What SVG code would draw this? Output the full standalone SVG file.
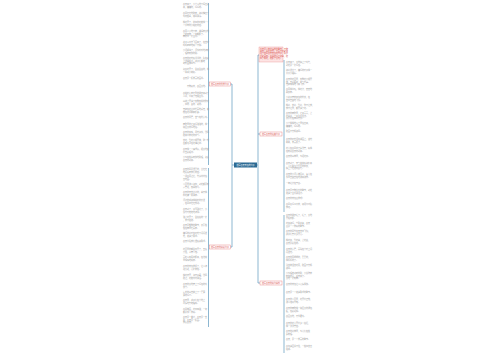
<svg xmlns="http://www.w3.org/2000/svg" width="500" height="360" viewBox="0 0 500 360">
<style>
text{font-family:"Noto Sans CJK SC","Noto Sans",sans-serif}
.lf{font-size:2px;fill:#9a9a9a}
.br{font-size:2px;fill:#d9534f}
.ct{font-size:2px;fill:#ffffff}
.ln{stroke:#5b98bd;stroke-width:0.7;fill:none}
.bx{fill:#ffffff;stroke:#e57373;stroke-width:0.4}
</style>
<rect width="500" height="360" fill="#ffffff"/>
<g id="connectors">
<path class="ln" d="M234 165H232M232 84V247M232 84H230M232 247H230"/>
<path class="ln" d="M257 165H258M258 55V283M258 55H259M258 134H260M258 283H260"/>
<path class="ln" d="M208.5 3V165"/>
<path class="ln" d="M208.5 168V327"/>
<path class="ln" d="M284 60V212"/>
<path class="ln" d="M284 215V353"/>
</g>
<g id="center"><rect x="234" y="162.5" width="23" height="5" fill="#2c6a94"/><text class="ct" x="245.5" y="165.7" text-anchor="middle">描写春天景色的句子</text></g>
<g id="n-left1"><rect class="bx" x="209.5" y="82" width="21" height="4"/><text class="br" x="220" y="84.7" text-anchor="middle">描写春天的优美句子</text></g>
<g id="n-left2"><rect class="bx" x="209.5" y="245" width="21" height="4"/><text class="br" x="220" y="247.7" text-anchor="middle">描写春天的精彩句子</text></g>
<g id="n-intro"><rect x="259" y="47" width="24" height="15" fill="#fde4e4" stroke="#e57373" stroke-width="0.3"/><text class="br" x="260" y="49.5"><tspan x="260">春天是一年中最美的季节，万物</tspan><tspan x="260" dy="2.4">复苏，百花盛开。下面为大家整</tspan><tspan x="260" dy="2.4">理了描写春天景色的句子，希望</tspan><tspan x="260" dy="2.4">大家喜欢。春风吹绿了柳条，吹</tspan><tspan x="260" dy="2.4">红了桃花，吹醒了大地。</tspan></text></g>
<g id="n-right1"><rect class="bx" x="260" y="132" width="22" height="4"/><text class="br" x="271" y="134.7" text-anchor="middle">描写春天的经典句子</text></g>
<g id="n-right2"><rect class="bx" x="260" y="281" width="22" height="4"/><text class="br" x="271" y="283.7" text-anchor="middle">描写春天的好句摘抄</text></g>
<g id="leaves-left1" class="lf">
<text x="183" y="5"><tspan x="183">春天来了，小草从地下探出头</tspan><tspan x="183" dy="2.6">来，嫩嫩的，绿绿的。</tspan></text>
<text x="183" y="14"><tspan x="183">春风轻轻地吹着，柳树抽出了</tspan><tspan x="183" dy="2.6">新的枝条，随风飘荡。</tspan></text>
<text x="183" y="23"><tspan x="183">桃花开了，粉红的花瓣像一个</tspan><tspan x="183" dy="2.6">个害羞的小姑娘的脸。</tspan></text>
<text x="183" y="32"><tspan x="183">春雨沙沙地下着，滋润着大地</tspan><tspan x="183" dy="2.6">上的万物，一切都醒了。</tspan><tspan x="183" dy="2.6">田野里一片生机。</tspan></text>
<text x="183" y="43"><tspan x="183">燕子从南方飞回来了，在空中</tspan><tspan x="183" dy="2.6">叽叽喳喳地叫个不停。</tspan></text>
<text x="183" y="51"><tspan x="183">小河解冻了，河水哗哗地流着</tspan><tspan x="183" dy="2.6">，唱着欢快的歌。</tspan></text>
<text x="183" y="59"><tspan x="183">春天的阳光暖洋洋的，照在身</tspan><tspan x="183" dy="2.6">上舒服极了，孩子们都跑</tspan><tspan x="183" dy="2.6">到外面放风筝。</tspan></text>
<text x="183" y="70"><tspan x="183">迎春花开了，金黄金黄的，像</tspan><tspan x="183" dy="2.6">一串串小喇叭。</tspan></text>
<text x="183" y="79"><tspan x="183">春天是一幅美丽的画卷。</tspan></text>
<text x="183" y="87"><tspan x="183">　　万物复苏，春回大地。</tspan></text>
<text x="183" y="94"><tspan x="183">春姑娘迈着轻盈的脚步来到了</tspan><tspan x="183" dy="2.6">人间，带来了无限生机。</tspan></text>
<text x="183" y="102"><tspan x="183">山坡上开满了各种各样的野花</tspan><tspan x="183" dy="2.6">，红的、黄的、紫的。</tspan></text>
<text x="183" y="110"><tspan x="183">蜜蜂在花丛中忙碌地采蜜，蝴</tspan><tspan x="183" dy="2.6">蝶在花间翩翩起舞。</tspan></text>
<text x="183" y="118"><tspan x="183">春天的早晨，空气格外清新。</tspan></text>
<text x="183" y="125"><tspan x="183">田野里的麦苗绿油油的，像一</tspan><tspan x="183" dy="2.6">块巨大的绿地毯。</tspan></text>
<text x="183" y="133"><tspan x="183">春天的夜晚，月光如水，微风</tspan><tspan x="183" dy="2.6">吹来带着花的香气。</tspan></text>
<text x="183" y="141"><tspan x="183">杏花、梨花竞相开放，整个村</tspan><tspan x="183" dy="2.6">庄都笼罩在花海之中。</tspan></text>
<text x="183" y="150"><tspan x="183">春天像一个魔术师，把大地变</tspan><tspan x="183" dy="2.6">得五彩缤纷。</tspan></text>
<text x="183" y="158"><tspan x="183">小鸟在枝头欢快地歌唱，迎接</tspan><tspan x="183" dy="2.6">春天的到来。</tspan></text>
</g>
<g id="leaves-left2" class="lf">
<text x="183" y="170"><tspan x="183">春天的风是温柔的，它轻轻</tspan><tspan x="183" dy="2.6">地抚摸着我们的脸。</tspan></text>
<text x="183" y="177"><tspan x="183">一场春雨过后，竹笋纷纷钻</tspan><tspan x="183" dy="2.6">出地面。</tspan></text>
<text x="183" y="185"><tspan x="183">公园里游人如织，到处都是欢</tspan><tspan x="183" dy="2.6">声笑语，热闹非凡。</tspan></text>
<text x="183" y="193"><tspan x="183">春天的天空蓝蓝的，白云像</tspan><tspan x="183" dy="2.6">棉花糖一样飘着。</tspan></text>
<text x="183" y="201"><tspan x="183">河边的垂柳像姑娘的长发</tspan><tspan x="183" dy="2.6">，在风中轻轻摆动。</tspan></text>
<text x="183" y="210"><tspan x="183">春天到了，冰雪融化了，小</tspan><tspan x="183" dy="2.6">溪叮叮咚咚地流淌。</tspan></text>
<text x="183" y="218"><tspan x="183">油菜花开了，金灿灿的一片</tspan><tspan x="183" dy="2.6">，美不胜收。</tspan></text>
<text x="183" y="226"><tspan x="183">春天是播种的季节，农民伯</tspan><tspan x="183" dy="2.6">伯在田里忙碌着。</tspan></text>
<text x="183" y="234"><tspan x="183">嫩绿的树叶在阳光下闪闪发</tspan><tspan x="183" dy="2.6">光，充满了希望。</tspan></text>
<text x="183" y="242"><tspan x="183">春天带给我们温暖和希望。</tspan></text>
<text x="183" y="250"><tspan x="183">花园里的郁金香开了，五颜</tspan><tspan x="183" dy="2.6">六色，争奇斗艳。</tspan></text>
<text x="183" y="258"><tspan x="183">青蛙从冬眠中醒来，在池塘</tspan><tspan x="183" dy="2.6">里呱呱地叫着。</tspan></text>
<text x="183" y="267"><tspan x="183">春天的景色美极了，让人流</tspan><tspan x="183" dy="2.6">连忘返，心旷神怡。</tspan></text>
<text x="183" y="276"><tspan x="183">樱花盛开，如云似霞，微风</tspan><tspan x="183" dy="2.6">吹过，花瓣纷纷飘落。</tspan></text>
<text x="183" y="285"><tspan x="183">春天的大地穿上了绿色的新</tspan><tspan x="183" dy="2.6">衣裳。</tspan></text>
<text x="183" y="293"><tspan x="183">远处的山峦披上了一层薄</tspan><tspan x="183" dy="2.6">薄的绿纱。</tspan></text>
<text x="183" y="301"><tspan x="183">春天里，孩子们在草地上</tspan><tspan x="183" dy="2.6">尽情地奔跑嬉戏。</tspan></text>
<text x="183" y="310"><tspan x="183">春风拂面，花香四溢，一切</tspan><tspan x="183" dy="2.6">都是那么美好。</tspan></text>
<text x="183" y="318"><tspan x="183">春天是一首诗，春天是一支</tspan><tspan x="183" dy="2.6">歌，春天是一幅画。</tspan><tspan x="183" dy="2.6">我爱春天。</tspan></text>
</g>
<g id="leaves-right1" class="lf">
<text x="286" y="63"><tspan x="286">春天来了，大地换上了新装，</tspan><tspan x="286" dy="2.6">到处是一片绿色。</tspan></text>
<text x="286" y="71"><tspan x="286">柳树发芽了，嫩绿的叶子像一</tspan><tspan x="286" dy="2.6">只只小眼睛。</tspan></text>
<text x="286" y="80"><tspan x="286">春天的花园里，各种花竞相开</tspan><tspan x="286" dy="2.6">放，五彩缤纷，香气扑鼻。</tspan><tspan x="286" dy="2.6">蜜蜂嗡嗡地飞来飞去。</tspan></text>
<text x="286" y="90"><tspan x="286">春雨像牛毛，像花针，密密地</tspan><tspan x="286" dy="2.6">斜织着。</tspan></text>
<text x="286" y="98"><tspan x="286">小燕子穿着黑色的外衣，在</tspan><tspan x="286" dy="2.6">空中自由地飞翔。</tspan></text>
<text x="286" y="106"><tspan x="286">桃树、杏树、梨树，你不让我，</tspan><tspan x="286" dy="2.6">我不让你，都开满了花。</tspan></text>
<text x="286" y="114"><tspan x="286">春天的田野里，麦苗青青，菜</tspan><tspan x="286" dy="2.6">花黄黄，一片生机盎然。</tspan><tspan x="286" dy="2.6">农民们在田间劳作。</tspan></text>
<text x="286" y="124"><tspan x="286">小草偷偷地从土里钻出来，</tspan><tspan x="286" dy="2.6">嫩嫩的，绿绿的。</tspan></text>
<text x="286" y="132"><tspan x="286">吹面不寒杨柳风。</tspan></text>
<text x="286" y="140"><tspan x="286">春天的阳光洒在湖面上，波光</tspan><tspan x="286" dy="2.6">粼粼，美丽极了。</tspan></text>
<text x="286" y="149"><tspan x="286">花儿在春风中点头微笑，好像</tspan><tspan x="286" dy="2.6">在欢迎春天的到来。</tspan></text>
<text x="286" y="157"><tspan x="286">春天的山林里，鸟语花香。</tspan></text>
<text x="286" y="164"><tspan x="286">春天到了，天气渐渐暖和起来</tspan><tspan x="286" dy="2.6">，人们脱下了厚厚的棉衣，</tspan><tspan x="286" dy="2.6">换上了轻便的春装。</tspan></text>
<text x="286" y="175"><tspan x="286">春天的小河清澈见底，鱼儿在</tspan><tspan x="286" dy="2.6">水里自由自在地游来游去。</tspan></text>
<text x="286" y="184"><tspan x="286">一年之计在于春。</tspan></text>
<text x="286" y="191"><tspan x="286">春天是万物生长的季节，到处</tspan><tspan x="286" dy="2.6">充满了生机和活力。</tspan></text>
<text x="286" y="199"><tspan x="286">春天的景色真美啊！</tspan></text>
<text x="286" y="205"><tspan x="286">春风又绿江南岸，明月何时照</tspan><tspan x="286" dy="2.6">我还。</tspan></text>
</g>
<g id="leaves-right2" class="lf">
<text x="286" y="216"><tspan x="286">春天的脚步近了，近了，大地</tspan><tspan x="286" dy="2.6">开始苏醒。</tspan></text>
<text x="286" y="224"><tspan x="286">花红柳绿，莺歌燕舞，春天</tspan><tspan x="286" dy="2.6">真是一个美好的季节。</tspan></text>
<text x="286" y="232"><tspan x="286">春天的风筝在天空中飞翔，</tspan><tspan x="286" dy="2.6">孩子们笑得多开心。</tspan></text>
<text x="286" y="241"><tspan x="286">桃花红，梨花白，菜花黄，</tspan><tspan x="286" dy="2.6">春天是彩色的。</tspan></text>
<text x="286" y="250"><tspan x="286">春天的清晨，露珠在草叶上闪</tspan><tspan x="286" dy="2.6">闪发光。</tspan></text>
<text x="286" y="258"><tspan x="286">春天的雨细细的，柔柔的，</tspan><tspan x="286" dy="2.6">像妈妈的手。</tspan></text>
<text x="286" y="266"><tspan x="286">沾衣欲湿杏花雨，吹面不寒杨</tspan><tspan x="286" dy="2.6">柳风。</tspan></text>
<text x="286" y="274"><tspan x="286">小鸟唱着动听的歌，小溪弹着</tspan><tspan x="286" dy="2.6">欢快的琴，春天来了。</tspan><tspan x="286" dy="2.6">大地一片欢腾。</tspan></text>
<text x="286" y="285"><tspan x="286">春天的景色让人心情愉快。</tspan></text>
<text x="286" y="293"><tspan x="286">春天是一个充满希望的季节。</tspan></text>
<text x="286" y="300"><tspan x="286">春天的公园里，花开得正艳，</tspan><tspan x="286" dy="2.6">游人络绎不绝。</tspan></text>
<text x="286" y="309"><tspan x="286">春天的田野像一块巨大的调色</tspan><tspan x="286" dy="2.6">板，色彩斑斓。</tspan></text>
<text x="286" y="317"><tspan x="286">春回大地，万象更新。</tspan></text>
<text x="286" y="324"><tspan x="286">春天的花儿开得多么灿烂，</tspan><tspan x="286" dy="2.6">像一张张笑脸。</tspan></text>
<text x="286" y="332"><tspan x="286">春天的树林里，鸟儿们在枝</tspan><tspan x="286" dy="2.6">头欢唱。</tspan></text>
<text x="286" y="340"><tspan x="286">春天，是一个美丽的季节。</tspan></text>
<text x="286" y="347"><tspan x="286">春色满园关不住，一枝红杏出</tspan><tspan x="286" dy="2.6">墙来。</tspan></text>
</g>
</svg>
